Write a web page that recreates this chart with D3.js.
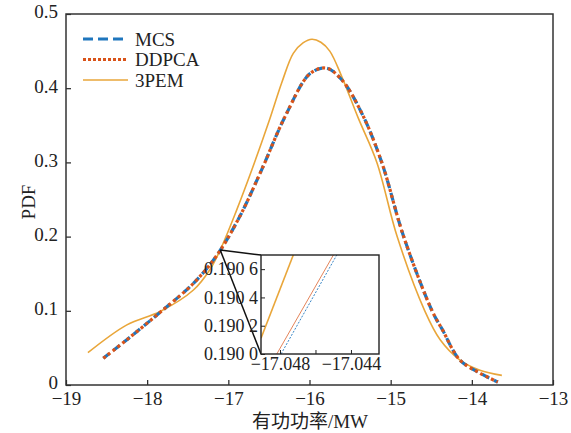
<!DOCTYPE html>
<html>
<head>
<meta charset="utf-8">
<script src="https://cdn.jsdelivr.net/npm/d3@7"></script>
<style>
  body { margin: 0; background: #fff; }
  svg { display: block; }
</style>
</head>
<body>
<div id="chart"><svg></svg></div>
<script>
// values
var mcsX = [-18.54, -18.25, -17.84, -17.43, -17.14, -16.86, -16.59, -16.3, -15.99, -15.79, -15.6, -15.35, -15.11, -14.84, -14.49, -14.36, -14.15, -13.9, -13.68];
var mcsY = [0.036, 0.061, 0.098, 0.137, 0.175, 0.227, 0.29, 0.362, 0.42, 0.427, 0.411, 0.365, 0.3, 0.2, 0.1, 0.074, 0.034, 0.016, 0.004];
var ddpcaX = [-18.54, -18.25, -17.84, -17.43, -17.14, -16.86, -16.59, -16.3, -15.99, -15.79, -15.6, -15.35, -15.11, -14.84, -14.49, -14.36, -14.15, -13.9, -13.68];
var ddpcaY = [0.036, 0.061, 0.098, 0.137, 0.175, 0.227, 0.29, 0.362, 0.42, 0.427, 0.411, 0.365, 0.3, 0.2, 0.1, 0.074, 0.034, 0.016, 0.004];
var pemX = [-18.73, -18.25, -17.84, -17.43, -17.23, -17.1, -16.9, -16.71, -16.5, -16.34, -16.2, -16.08, -15.97, -15.86, -15.75, -15.6, -15.4, -15.17, -14.92, -14.58, -14.39, -14.15, -13.9, -13.63];
var pemY = [0.0435, 0.081, 0.099, 0.128, 0.155, 0.182, 0.235, 0.29, 0.355, 0.408, 0.447, 0.461, 0.466, 0.462, 0.45, 0.415, 0.36, 0.3, 0.2, 0.1, 0.061, 0.034, 0.02, 0.013];

// zoomed inset (two points per straight segment)
var insetMcsX = [-17.04794, -17.0448];
var insetMcsY = [0.19, 0.1907];
var insetDdpcaX = [-17.04818, -17.04499];
var insetDdpcaY = [0.19, 0.1907];
var insetPemX = [-17.04907, -17.04725];
var insetPemY = [0.190112, 0.1907];
var insetAnchor = [-17.1, 0.182];

var xTicks = [-19, -18, -17, -16, -15, -14, -13];
var yTicks = [0, 0.1, 0.2, 0.3, 0.4, 0.5];
var insetXTicks = [-17.048, -17.046, -17.044];
var insetXLabels = [-17.048, -17.044];
var insetYTicks = [0.19, 0.1902, 0.1904, 0.1906];

var seriesNames = ["MCS", "DDPCA", "3PEM"];

var width = 571, height = 433,
  mLeft = 66, mRight = 553, mTop = 14, mBottom = 385,
  blue = "#1F76BD", red = "#D95319", yellow = "#E9A63A",
  serif = "'Liberation Serif', 'Times New Roman', serif";

var svg = d3.select("#chart svg").attr("width", width).attr("height", height);

var x = d3.scaleLinear().domain([-19, -13]).range([mLeft, mRight]);
var y = d3.scaleLinear().domain([0, 0.5]).range([mBottom, mTop]);

function zip(xs, ys) {
  return xs.map(function(v, i) { return [v, ys[i]]; });
}

var line = d3.line()
  .x(function(d) { return x(d[0]); })
  .y(function(d) { return y(d[1]); })
  .curve(d3.curveCatmullRom.alpha(0.5));

// axes (ticks point inwards)
var xAxis = d3.axisBottom(x).tickValues(xTicks).tickSizeInner(-5).tickSizeOuter(0).tickPadding(7)
  .tickFormat(function(d) { return d < 0 ? "\u2212" + Math.abs(d) : d; });
var yAxis = d3.axisLeft(y).tickValues(yTicks).tickSizeInner(-5).tickSizeOuter(0).tickPadding(8)
  .tickFormat(function(d) { return d === 0 ? "0" : d3.format(".1f")(d); });

var main = svg.append("g");
main.append("g").attr("transform", "translate(0," + mBottom + ")").call(xAxis);
main.append("g").attr("transform", "translate(" + mLeft + ",0)").call(yAxis)
  .selectAll(".tick text").attr("dy", "0.2em");
main.selectAll(".domain").remove();
main.selectAll(".tick line").attr("stroke", "#222").attr("stroke-width", 1.2);
main.selectAll(".tick text").attr("font-family", serif).attr("font-size", "19px").attr("fill", "#222");

// curves
main.append("path").datum(zip(pemX, pemY)).attr("d", line)
  .attr("fill", "none").attr("stroke", yellow).attr("stroke-width", 1.6);
main.append("path").datum(zip(mcsX, mcsY)).attr("d", line)
  .attr("fill", "none").attr("stroke", blue).attr("stroke-width", 3.2).attr("stroke-dasharray", "8,5");
main.append("path").datum(zip(ddpcaX, ddpcaY)).attr("d", line)
  .attr("fill", "none").attr("stroke", red).attr("stroke-width", 3.2).attr("stroke-dasharray", "3,3");

// frame
main.append("rect").attr("x", mLeft).attr("y", mTop).attr("width", mRight - mLeft).attr("height", mBottom - mTop)
  .attr("fill", "none").attr("stroke", "#333").attr("stroke-width", 1.5);

// legend
var legend = svg.append("g").attr("transform", "translate(83,39)");
var legendStyles = [
  {c: blue, w: 3.2, dash: "10,5"},
  {c: red, w: 3.2, dash: "3,2"},
  {c: yellow, w: 1.6, dash: null}
];
seriesNames.forEach(function(name, i) {
  var g = legend.append("g").attr("transform", "translate(0," + (i * 20.5) + ")");
  g.append("line").attr("x1", 0).attr("x2", 45).attr("y1", 0).attr("y2", 0)
    .attr("stroke", legendStyles[i].c).attr("stroke-width", legendStyles[i].w)
    .attr("stroke-dasharray", legendStyles[i].dash);
  g.append("text").attr("x", 52).attr("y", 6.5).attr("font-family", serif).attr("font-size", "19px")
    .attr("fill", "#222").text(name);
});

// axis titles
svg.append("text").attr("x", 310).attr("y", 428).attr("text-anchor", "middle")
  .attr("font-family", "'Liberation Serif', 'Noto Sans CJK SC', serif").attr("font-size", "19px")
  .attr("fill", "#222").text("有功功率/MW");
svg.append("text").attr("transform", "translate(35,202) rotate(-90)").attr("text-anchor", "middle")
  .attr("font-family", serif).attr("font-size", "19px").attr("fill", "#222").text("PDF");

// inset
var iL = 261, iR = 379, iT = 255, iB = 354;
var ix = d3.scaleLinear().domain([-17.04907, -17.04242]).range([iL, iR]);
var iy = d3.scaleLinear().domain([0.19, 0.1907]).range([iB, iT]);

svg.append("line").attr("x1", x(insetAnchor[0])).attr("y1", y(insetAnchor[1])).attr("x2", iL).attr("y2", iT)
  .attr("stroke", "#111").attr("stroke-width", 1.5);
svg.append("line").attr("x1", x(insetAnchor[0])).attr("y1", y(insetAnchor[1])).attr("x2", iL).attr("y2", iB)
  .attr("stroke", "#111").attr("stroke-width", 1.5);

var inset = svg.append("g");
inset.append("rect").attr("x", iL).attr("y", iT).attr("width", iR - iL).attr("height", iB - iT).attr("fill", "#fff");

var iline = d3.line().x(function(d) { return ix(d[0]); }).y(function(d) { return iy(d[1]); });
inset.append("clipPath").attr("id", "insetClip").append("rect")
  .attr("x", iL).attr("y", iT).attr("width", iR - iL).attr("height", iB - iT);
var ig = inset.append("g").attr("clip-path", "url(#insetClip)");
ig.append("path").datum(zip(insetPemX, insetPemY)).attr("d", iline)
  .attr("fill", "none").attr("stroke", yellow).attr("stroke-width", 1.6);
ig.append("path").datum(zip(insetDdpcaX, insetDdpcaY)).attr("d", iline)
  .attr("fill", "none").attr("stroke", red).attr("stroke-width", 0.9).attr("stroke-opacity", 0.8);
ig.append("path").datum(zip(insetMcsX, insetMcsY)).attr("d", iline)
  .attr("fill", "none").attr("stroke", blue).attr("stroke-width", 0.9).attr("stroke-dasharray", "2,1.5");

var ixAxis = d3.axisBottom(ix).tickValues(insetXTicks).tickSizeInner(-4).tickSizeOuter(0).tickPadding(3)
  .tickFormat(function(d) { return insetXLabels.indexOf(d) >= 0 ? "\u2212" + Math.abs(d).toFixed(3) : ""; });
var iyAxis = d3.axisLeft(iy).tickValues(insetYTicks).tickSizeInner(-4).tickSizeOuter(0).tickPadding(3)
  .tickFormat(function(d) { var s = d.toFixed(4); return s.slice(0, 5) + " " + s.slice(5); });
inset.append("g").attr("transform", "translate(0," + iB + ")").call(ixAxis);
inset.append("g").attr("transform", "translate(" + iL + ",0)").call(iyAxis);
inset.selectAll(".domain").remove();
inset.selectAll(".tick line").attr("stroke", "#222").attr("stroke-width", 1);
inset.selectAll(".tick text").attr("font-family", serif).attr("font-size", "18px").attr("fill", "#222");
inset.append("rect").attr("x", iL).attr("y", iT).attr("width", iR - iL).attr("height", iB - iT)
  .attr("fill", "none").attr("stroke", "#222").attr("stroke-width", 1.4);
</script>
</body>
</html>
